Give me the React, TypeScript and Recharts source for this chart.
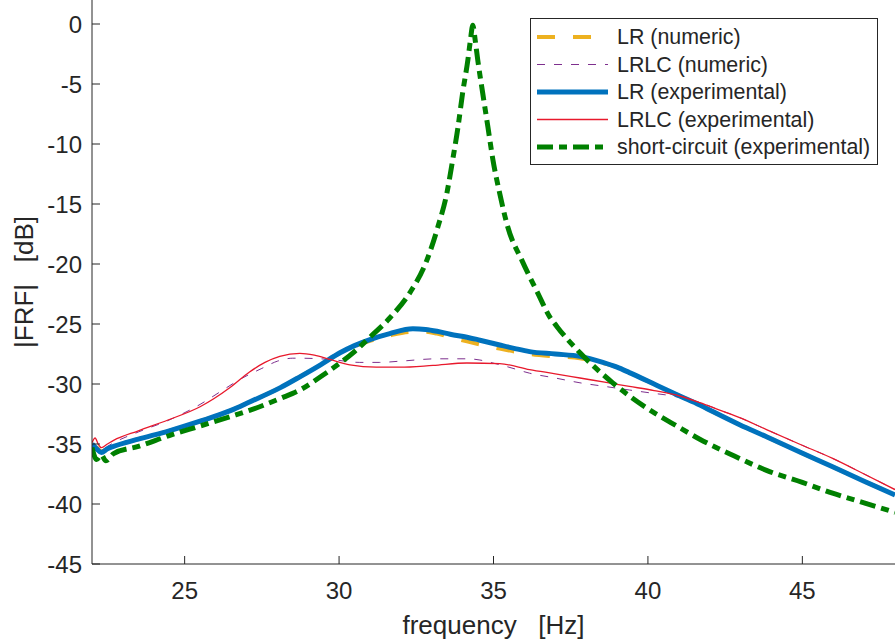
import { LineChart, Line, XAxis, YAxis, Legend, Label } from 'recharts'

const FONT = '"Liberation Sans", Arial, Helvetica, sans-serif'
const AXIS = '#262626'

const xTicks = [25, 30, 35, 40, 45]
const yTicks = [0, -5, -10, -15, -20, -25, -30, -35, -40, -45]

// LR (numeric)
const lrNumFreq = [22.0, 22.15, 22.3, 22.5, 22.7, 23.5, 24.5, 25.5, 26.5, 27.1, 28.1, 28.73, 29.4, 30.03, 30.5, 31.0, 31.64, 32.39, 32.8, 33.17, 33.6, 34.14, 34.56, 35.2, 35.7, 36.17, 37.0, 37.8, 38.54, 39.0, 39.4, 40.28, 41.03, 41.68, 42.1, 42.97, 43.84, 44.9, 45.98, 47.0, 48.0]
const lrNumDb = [-35.2, -35.3, -35.6, -35.4, -35.2, -34.6, -33.9, -33.1, -32.2, -31.5, -30.3, -29.4, -28.4, -27.4, -26.85, -26.4, -25.95, -25.65, -25.65, -25.8, -26.1, -26.45, -26.7, -27.05, -27.3, -27.5, -27.7, -27.85, -28.25, -28.6, -29.05, -30.1, -31.0, -31.75, -32.3, -33.4, -34.4, -35.65, -36.9, -38.1, -39.25]

// LRLC (numeric)
const lrlcNumFreq = [22.0, 22.15, 22.3, 22.5, 22.7, 23.5, 24.5, 25.5, 26.3, 26.8, 27.5, 28.0, 28.5, 28.73, 29.7, 30.67, 31.3, 31.97, 33.17, 34.14, 34.56, 34.9, 35.5, 36.17, 37.0, 37.8, 38.6, 39.4, 40.1, 40.8, 41.3, 41.68, 42.3, 42.97, 43.84, 44.9, 45.98, 47.0, 48.0]
const lrlcNumDb = [-35.0, -35.2, -35.6, -35.2, -34.9, -34.0, -33.0, -31.7, -30.4, -29.6, -28.7, -28.1, -27.85, -27.85, -27.95, -28.2, -28.2, -28.1, -27.9, -27.9, -28.0, -28.2, -28.6, -29.1, -29.5, -29.9, -30.2, -30.5, -30.75, -31.0, -31.3, -31.55, -32.15, -32.8, -33.8, -35.0, -36.2, -37.5, -38.8]

// LR (experimental)
const lrExpFreq = [22.0, 22.15, 22.3, 22.5, 22.7, 23.5, 24.5, 25.5, 26.5, 27.1, 28.1, 28.73, 29.4, 30.03, 30.5, 31.0, 31.64, 32.39, 32.8, 33.17, 33.6, 34.14, 34.56, 35.2, 35.7, 36.17, 37.0, 37.8, 38.54, 39.0, 39.4, 40.28, 41.03, 41.68, 42.1, 42.97, 43.84, 44.9, 45.98, 47.0, 48.0]
const lrExpDb = [-35.0, -35.4, -35.7, -35.4, -35.2, -34.6, -33.9, -33.1, -32.2, -31.5, -30.3, -29.4, -28.4, -27.4, -26.8, -26.3, -25.8, -25.4, -25.45, -25.6, -25.85, -26.1, -26.35, -26.75, -27.05, -27.3, -27.5, -27.7, -28.2, -28.6, -29.05, -30.1, -31.0, -31.75, -32.3, -33.4, -34.4, -35.65, -36.9, -38.1, -39.25]

// LRLC (experimental)
const lrlcExpFreq = [22.0, 22.1, 22.2, 22.3, 22.5, 22.7, 23.5, 24.46, 25.5, 26.47, 27.1, 27.6, 28.08, 28.73, 29.2, 29.7, 30.35, 31.2, 31.97, 33.04, 34.14, 35.2, 36.17, 37.0, 37.8, 38.6, 39.4, 40.2, 41.03, 41.68, 42.3, 42.97, 43.84, 44.9, 45.98, 47.0, 48.0]
const lrlcExpDb = [-34.9, -34.5, -35.0, -35.3, -35.0, -34.7, -33.9, -33.0, -31.9, -30.3, -29.0, -28.2, -27.7, -27.45, -27.6, -27.95, -28.4, -28.6, -28.6, -28.45, -28.25, -28.3, -28.8, -29.15, -29.5, -29.85, -30.2, -30.55, -31.0, -31.55, -32.15, -32.8, -33.8, -35.0, -36.2, -37.5, -38.8]

// short-circuit (experimental)
const scFreq = [22.0, 22.15, 22.3, 22.45, 22.7, 23.5, 24.5, 25.5, 26.5, 27.1, 28.1, 28.73, 29.4, 30.03, 30.5, 31.0, 31.64, 32.29, 32.84, 33.2, 33.49, 33.68, 33.85, 34.0, 34.17, 34.25, 34.33, 34.41, 34.49, 34.65, 34.82, 34.98, 35.2, 35.46, 35.92, 36.43, 36.82, 37.05, 37.8, 38.86, 39.96, 41.0, 41.68, 42.8, 43.84, 45.0, 45.98, 47.0, 48.0]
const scDb = [-35.3, -36.3, -35.9, -36.4, -35.8, -35.2, -34.3, -33.5, -32.7, -32.2, -31.2, -30.5, -29.4, -28.25, -27.3, -26.1, -24.5, -22.4, -19.7, -16.9, -14.1, -11.3, -8.6, -5.75, -3.0, -1.4, -0.1, -1.4, -3.0, -5.75, -8.6, -11.3, -14.1, -16.9, -19.7, -22.4, -24.4, -25.2, -27.4, -29.9, -32.0, -33.6, -34.6, -36.0, -37.2, -38.2, -39.1, -39.9, -40.7]

const toPoints = (freq: number[], db: number[]) => freq.map((f, i) => ({ f, v: db[i] }))

const series = [
  { name: 'LR (numeric)', data: toPoints(lrNumFreq, lrNumDb), color: '#EDB120', width: 4, dash: '18 18' },
  { name: 'LRLC (numeric)', data: toPoints(lrlcNumFreq, lrlcNumDb), color: '#7E2F8E', width: 1, dash: '8 9' },
  { name: 'LR (experimental)', data: toPoints(lrExpFreq, lrExpDb), color: '#0072BD', width: 5, dash: undefined },
  { name: 'LRLC (experimental)', data: toPoints(lrlcExpFreq, lrlcExpDb), color: '#E8192C', width: 1.3, dash: undefined },
  { name: 'short-circuit (experimental)', data: toPoints(scFreq, scDb), color: '#008000', width: 5, dash: '16 6 8 6' },
]

function LegendBox() {
  return (
    <svg width={348} height={147} style={{ display: 'block' }}>
      <rect x={0.5} y={0.5} width={347} height={146} fill="#fff" stroke={AXIS} strokeWidth={1} />
      {series.map((s, i) => {
        const y = 19 + i * 27.5
        return (
          <g key={s.name}>
            <line x1={7} x2={78} y1={y} y2={y} stroke={s.color} strokeWidth={s.width} strokeDasharray={s.dash} />
            <text x={87} y={y} dominantBaseline="central" fontFamily={FONT} fontSize={21.4} fill={AXIS}>
              {s.name}
            </text>
          </g>
        )
      })}
    </svg>
  )
}

export default function App() {
  const tickStyle = { fontFamily: FONT, fontSize: 24, fill: AXIS }
  return (
    <div style={{ position: 'absolute', left: 0, top: 0, background: '#fff' }}>
      <LineChart width={895} height={644} margin={{ top: 0, right: 0, bottom: 0, left: 0 }}>
        <XAxis
          dataKey="f"
          type="number"
          domain={[22, 48]}
          ticks={xTicks}
          height={80}
          allowDataOverflow
          stroke={AXIS}
          tick={tickStyle}
          tickSize={-8}
          tickMargin={26}
        >
          <Label
            content={({ viewBox }: any) => (
              <text
                x={viewBox.x + viewBox.width / 2}
                y={viewBox.y + 70}
                textAnchor="middle"
                fontFamily={FONT}
                fontSize={26}
                fill={AXIS}
              >
                {'frequency\u00a0\u00a0\u00a0[Hz]'}
              </text>
            )}
          />
        </XAxis>
        <YAxis
          type="number"
          domain={[-45, 2]}
          ticks={yTicks}
          width={92}
          allowDataOverflow
          stroke={AXIS}
          tick={tickStyle}
          tickSize={-8}
          tickMargin={18}
        >
          <Label
            content={({ viewBox }: any) => {
              const cx = 33
              const cy = viewBox.y + viewBox.height / 2
              return (
                <text
                  x={cx}
                  y={cy}
                  textAnchor="middle"
                  transform={`rotate(-90, ${cx}, ${cy})`}
                  fontFamily={FONT}
                  fontSize={26}
                  fill={AXIS}
                >
                  {'|FRF|\u00a0\u00a0\u00a0[dB]'}
                </text>
              )
            }}
          />
        </YAxis>
        {series.map((s) => (
          <Line
            key={s.name}
            data={s.data}
            dataKey="v"
            name={s.name}
            type="monotone"
            stroke={s.color}
            strokeWidth={s.width}
            strokeDasharray={s.dash}
            dot={false}
            activeDot={false}
            isAnimationActive={false}
          />
        ))}
        <Legend
          layout="horizontal"
          verticalAlign="middle"
          align="center"
          content={() => <LegendBox />}
          wrapperStyle={{ position: 'absolute', left: 530, top: 18, width: 348, height: 147 }}
        />
      </LineChart>
    </div>
  )
}
